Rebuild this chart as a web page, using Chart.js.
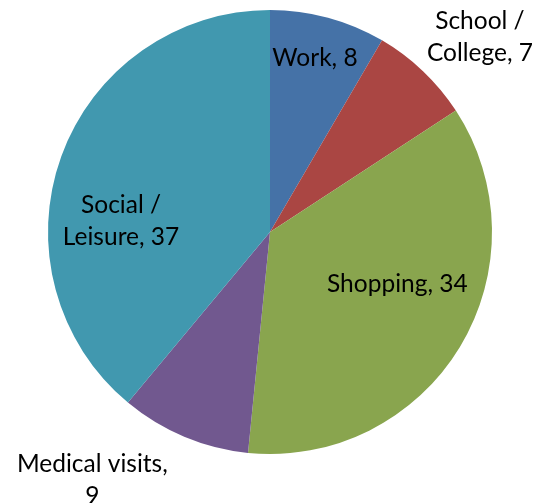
<!DOCTYPE html>
<html>
<head>
<meta charset="utf-8">
<script src="https://cdn.jsdelivr.net/npm/chart.js@4/dist/chart.umd.min.js"></script>
<style>
html,body{margin:0;padding:0;background:#fff;}
#wrap{width:535px;height:503px;}
</style>
</head>
<body>
<div id="wrap"><canvas id="c" width="535" height="503"></canvas></div>
<script>
const categories = ["Work", "School / College", "Shopping", "Medical visits", "Social / Leisure"];
const values = [8, 7, 34, 9, 37];
const labelLines = [["Work, 8"], ["School /", "College, 7"], ["Shopping, 34"], ["Medical visits,", "9"], ["Social /", "Leisure, 37"]];
const colors = ["#4572A7", "#AA4643", "#89A54E", "#71588F", "#4198AF"];
// label placement (first-line baseline): radius factor along slice mid-angle, plus small nudge
const labelRadius = [0.775, 1.3, 0.65, 1.15, 0.68];
const labelNudge = [[0,0],[11,6],[4,-15],[-79,5],[-7,32]];

const labelPlugin = {
  id: 'sliceLabels',
  afterDatasetsDraw(chart) {
    const ctx = chart.ctx;
    const meta = chart.getDatasetMeta(0);
    ctx.save();
    ctx.font = '24.5px Lato';
    ctx.fillStyle = '#000';
    ctx.textAlign = 'center';
    ctx.textBaseline = 'alphabetic';
    const lh = 32;
    meta.data.forEach((arc, i) => {
      const p = arc.getProps(['x','y','startAngle','endAngle','outerRadius'], true);
      const mid = (p.startAngle + p.endAngle) / 2;
      const r = p.outerRadius * labelRadius[i];
      const x = p.x + Math.cos(mid) * r + labelNudge[i][0];
      const y = p.y + Math.sin(mid) * r + labelNudge[i][1];
      labelLines[i].forEach((t, k) => {
        ctx.fillText(t, x, y + k * lh);
      });
    });
    ctx.restore();
  }
};

new Chart(document.getElementById('c'), {
  type: 'pie',
  data: {
    labels: categories,
    datasets: [{ data: values, backgroundColor: colors, borderWidth: 0 }]
  },
  options: {
    responsive: false,
    animation: false,
    layout: { padding: { left: 48, right: 43, top: 10, bottom: 49 } },
    plugins: { legend: { display: false }, tooltip: { enabled: false } }
  },
  plugins: [labelPlugin]
});
</script>
</body>
</html>
